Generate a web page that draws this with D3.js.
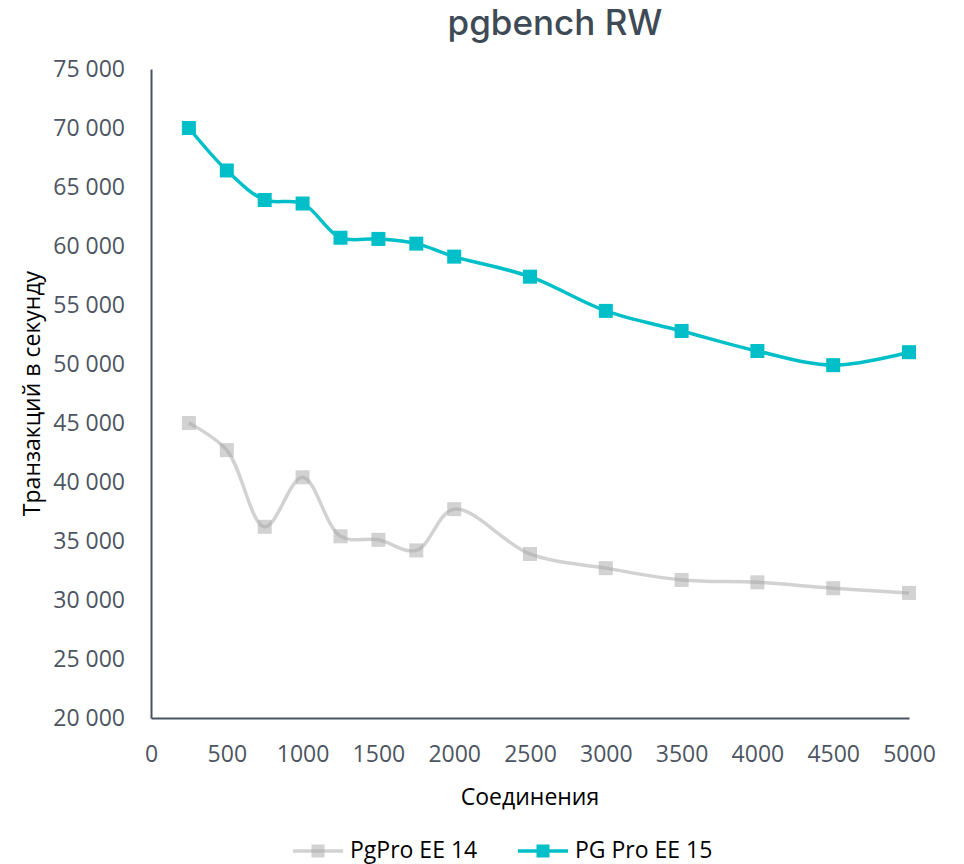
<!DOCTYPE html>
<html>
<head>
<meta charset="utf-8">
<script src="https://cdn.jsdelivr.net/npm/d3@7"></script>
<style>
  body { margin: 0; background: #fff; }
  text { font-family: "Open Sans", "Noto Sans", sans-serif; }
</style>
</head>
<body>
<div id="chart"></div>
<script>
'use strict'

const connections = [250, 500, 750, 1000, 1250, 1500, 1750, 2000, 2500, 3000, 3500, 4000, 4500, 5000]
const ee14 = [45000, 42700, 36200, 40400, 35400, 35100, 34200, 37700, 33900, 32700, 31700, 31500, 31000, 30600]
const ee15 = [70000, 66400, 63900, 63600, 60700, 60600, 60200, 59100, 57400, 54500, 52800, 51100, 49900, 51000]
const xTicks = [0, 500, 1000, 1500, 2000, 2500, 3000, 3500, 4000, 4500, 5000]
const yTicks = [20000, 25000, 30000, 35000, 40000, 45000, 50000, 55000, 60000, 65000, 70000, 75000]
const seriesNames = ['PgPro EE 14', 'PG Pro EE 15']

const width = 964,
		height = 864
const margin = { top: 69, right: 55, bottom: 146, left: 151 }
const innerW = width - margin.left - margin.right
const innerH = height - margin.top - margin.bottom

const axisColor = '#4a5461'
const labelColor = '#4d5562'
const fontSize = '23px'

const svg = d3.select('#chart').append('svg')
	.attr('width', width)
	.attr('height', height)

const x = d3.scaleLinear().domain([0, 5000]).range([margin.left, margin.left + innerW])
const y = d3.scaleLinear().domain([20000, 75000]).range([margin.top + innerH, margin.top])

// title
svg.append('text')
	.attr('x', 555)
	.attr('y', 35)
	.attr('text-anchor', 'middle')
	.style('font-family', 'Inter, "Noto Sans", sans-serif')
	.style('font-size', '35px')
	.style('font-weight', 500)
	.attr('fill', '#3e4a55')
	.text('pgbench RW')

// axes
const yAxis = svg.append('g')
	.attr('transform', `translate(${margin.left},0)`)
	.call(d3.axisLeft(y).tickValues(yTicks).tickSize(0).tickPadding(26)
		.tickFormat(d => d3.format(',')(d).replace(/,/g, ' ')))
const xAxis = svg.append('g')
	.attr('transform', `translate(0,${margin.top + innerH})`)
	.call(d3.axisBottom(x).tickValues(xTicks).tickSize(0).tickPadding(28).tickFormat(d3.format('d')))

;[xAxis, yAxis].forEach(g => {
	g.select('.domain').attr('stroke', axisColor).attr('stroke-width', 2)
	g.selectAll('text')
		.style('font-family', '"Open Sans", sans-serif')
		.style('font-size', fontSize)
		.attr('fill', labelColor)
})

// axis titles
svg.append('text')
	.attr('x', margin.left + innerW / 2)
	.attr('y', 805)
	.attr('text-anchor', 'middle')
	.style('font-size', fontSize)
	.attr('fill', '#000')
	.text('Соединения')

svg.append('text')
	.attr('transform', `translate(40,${margin.top + innerH / 2}) rotate(-90)`)
	.attr('text-anchor', 'middle')
	.style('font-size', fontSize)
	.attr('fill', '#000')
	.text('Транзакций в секунду')

// series
const series = [
	{ name: seriesNames[0], values: ee14, color: '#a6a6a6', opacity: 0.5 },
	{ name: seriesNames[1], values: ee15, color: '#00bfc8', opacity: 1 }
]

const line = d3.line()
	.x(d => x(d[0]))
	.y(d => y(d[1]))
	.curve(d3.curveCatmullRom.alpha(0.5))

const markerSize = 14

series.forEach(s => {
	const pts = connections.map((c, i) => [c, s.values[i]])
	const g = svg.append('g')
	g.append('path')
		.datum(pts)
		.attr('d', line)
		.attr('fill', 'none')
		.attr('stroke', s.color)
		.attr('stroke-opacity', s.opacity)
		.attr('stroke-width', 3.5)
	g.selectAll('rect')
		.data(pts)
		.enter().append('rect')
			.attr('x', d => x(d[0]) - markerSize / 2)
			.attr('y', d => y(d[1]) - markerSize / 2)
			.attr('width', markerSize)
			.attr('height', markerSize)
			.attr('fill', s.color)
			.attr('fill-opacity', s.opacity)
})

// legend
const legendItems = [
	{ s: series[0], x0: 293, tx: 350 },
	{ s: series[1], x0: 518, tx: 575 }
]
const ly = 851
legendItems.forEach(item => {
	const g = svg.append('g')
	g.append('line')
		.attr('x1', item.x0).attr('x2', item.x0 + 50)
		.attr('y1', ly).attr('y2', ly)
		.attr('stroke', item.s.color)
		.attr('stroke-opacity', item.s.opacity)
		.attr('stroke-width', 3.5)
	g.append('rect')
		.attr('x', item.x0 + 25 - 13 / 2)
		.attr('y', ly - 13 / 2)
		.attr('width', 13)
		.attr('height', 13)
		.attr('fill', item.s.color)
		.attr('fill-opacity', item.s.opacity)
	g.append('text')
		.attr('x', item.tx)
		.attr('y', ly + 7)
		.style('font-size', fontSize)
		.attr('fill', '#000')
		.text(item.s.name)
})
</script>
</body>
</html>
